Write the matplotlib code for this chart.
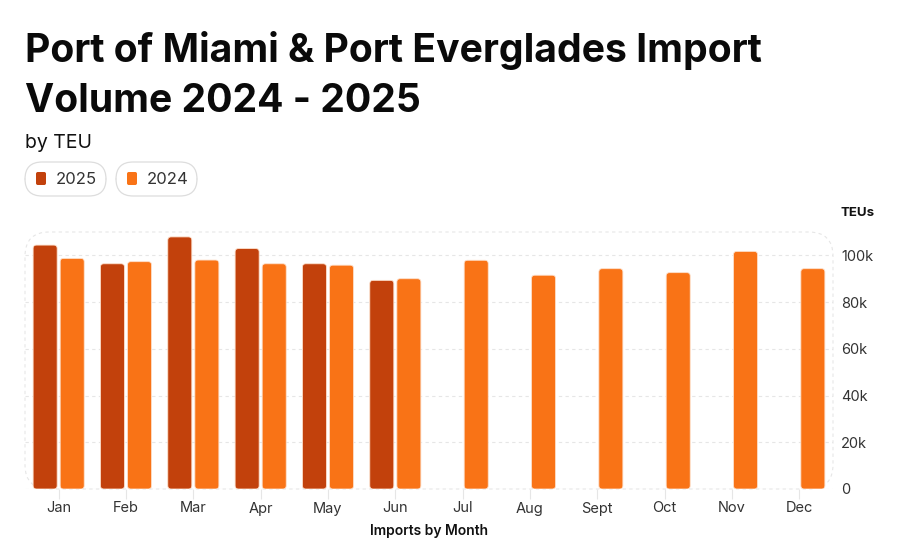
import matplotlib
matplotlib.use("Agg")
import matplotlib.pyplot as plt
from matplotlib.patches import FancyBboxPatch
from matplotlib.ticker import FuncFormatter
import numpy as np

plt.rcParams['font.family'] = ['Inter', 'DejaVu Sans']

months = ["Jan", "Feb", "Mar", "Apr", "May", "Jun",
          "Jul", "Aug", "Sept", "Oct", "Nov", "Dec"]
teu_2025 = [104400, 96400, 107900, 102900, 96400, 89300]
teu_2024 = [98700, 97300, 98000, 96400, 95800, 90000,
            97900, 91500, 94300, 92600, 101700, 94300]

c2025 = "#c2410c"
c2024 = "#f97316"
grid_c = "#e6e6e6"
text_c = "#333333"

W, H = 899, 542
fig = plt.figure(figsize=(W / 100, H / 100), dpi=100)

# plot area in pixels: x 25..833, y 232..489
ax = fig.add_axes([25 / W, 1 - 489 / H, 808 / W, 257 / H])

x = np.arange(len(months))
bw = 0.357
gap = 0.045
ymax = 110000
rs = 0.05  # corner radius in x units (~3.4 px)
# same radius in y units -> aspect
asp = (rs * 808 / 12) * ymax / 257 / rs

def round_bars(bars, color):
    # swap the square bars for rounded ones
    for b in bars:
        bx, by = b.get_x(), b.get_y()
        w, h = b.get_width(), b.get_height()
        b.remove()
        p = FancyBboxPatch((bx, by), w, h,
                           boxstyle=f"round,pad=0,rounding_size={rs}",
                           mutation_aspect=asp,
                           fc=color, ec="#fde0cc", lw=0.6, zorder=3)
        ax.add_patch(p)

b25 = ax.bar(x[:len(teu_2025)] - bw / 2 - gap / 2, teu_2025, width=bw)
b24 = ax.bar(x + bw / 2 + gap / 2, teu_2024, width=bw)
round_bars(b25, c2025)
round_bars(b24, c2024)

ax.set_xlim(-0.5, len(months) - 0.5)
ax.set_ylim(0, ymax)

ax.yaxis.tick_right()
ax.set_yticks([0, 20000, 40000, 60000, 80000, 100000])
ax.yaxis.set_major_formatter(FuncFormatter(lambda v, p: "0" if v == 0 else f"{int(v / 1000)}k"))
ax.tick_params(axis="y", length=0, pad=6, labelsize=10.5, labelcolor=text_c)

ax.set_xticks(x)
ax.set_xticklabels(months)
ax.tick_params(axis="x", length=7, width=0.8, color=grid_c, pad=2,
               labelsize=10.5, labelcolor=text_c)

ax.grid(axis="y", color=grid_c, linestyle=(0, (3, 3)), lw=0.8, zorder=0)
for s in ax.spines.values():
    s.set_visible(False)

# dashed rounded frame around the plot area
frame = FancyBboxPatch((0, 0), 1, 1, boxstyle="round,pad=0,rounding_size=0.03",
                       mutation_aspect=808 / 257, transform=ax.transAxes,
                       fill=False, ec=grid_c, ls=(0, (3, 3)), lw=0.8,
                       zorder=0, clip_on=False)
ax.add_patch(frame)

ax.set_xlabel("Imports by Month", fontsize=10, fontweight="semibold",
              color="#111111", labelpad=6)
fig.text(858 / W, 1 - 213 / H, "TEUs", fontsize=9.5, fontweight="bold",
         color="#111111", ha="center", va="center")

# title block
fig.text(25 / W, 1 - 62 / H, "Port of Miami & Port Everglades Import",
         fontsize=28.2, fontweight="bold", color="#0a0a0a", va="baseline")
fig.text(25 / W, 1 - 112 / H, "Volume 2024 - 2025",
         fontsize=28.2, fontweight="bold", color="#0a0a0a", va="baseline")
fig.text(25 / W, 1 - 148 / H, "by TEU", fontsize=14, color="#111111",
         va="baseline")

# legend pills
for i, (lab, col) in enumerate([("2025", c2025), ("2024", c2024)]):
    x0 = 25 + i * 91
    pill = FancyBboxPatch((x0 / W, 1 - 196 / H), 81 / W, 34 / H,
                          boxstyle="round,pad=0,rounding_size=0.019",
                          mutation_aspect=W / H,
                          transform=fig.transFigure, fc="white",
                          ec="#dddddd", lw=0.9)
    fig.patches.append(pill)
    sw = FancyBboxPatch(((x0 + 11) / W, 1 - 185 / H), 10 / W, 13 / H,
                        boxstyle="round,pad=0,rounding_size=0.002",
                        mutation_aspect=W / H,
                        transform=fig.transFigure, fc=col, ec="none")
    fig.patches.append(sw)
    fig.text((x0 + 31) / W, 1 - 179 / H, lab, fontsize=12, color=text_c,
             va="center")

fig.savefig("out.png", dpi=100)
